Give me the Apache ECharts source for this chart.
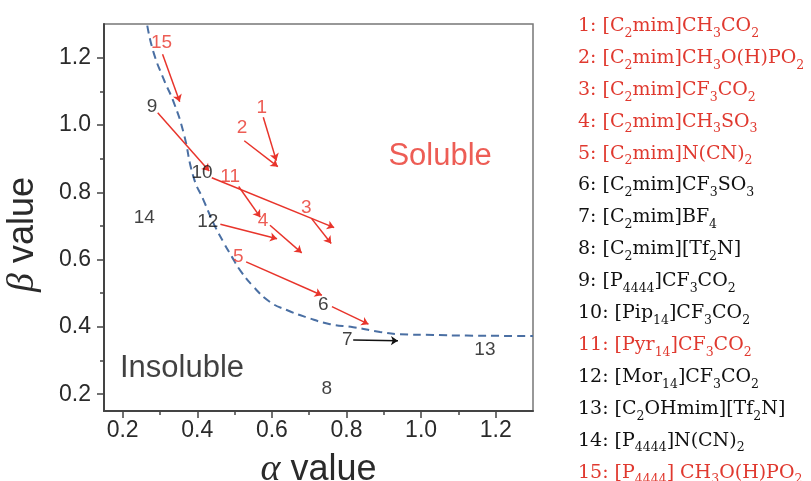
<!DOCTYPE html>
<html><head><meta charset="utf-8">
<script src="https://cdn.jsdelivr.net/npm/echarts@6/dist/echarts.min.js"></script>
<style>html,body{margin:0;padding:0;background:#fff}#c{width:811px;height:481px}</style>
</head><body><div id="c"></div>
<script>
// ---- data ----
const ids        = ['1','2','3','4','5','6','7','8','9','10','11','12','13','14','15'];
const labelAlpha = [0.573,0.520,0.692,0.576,0.510,0.738,0.802,0.747,0.279,0.413,0.488,0.428,1.171,0.258,0.304];
const labelBeta  = [1.052,0.993,0.753,0.716,0.607,0.465,0.363,0.215,1.054,0.857,0.847,0.711,0.333,0.724,1.245];
const labelRed   = [true,true,true,true,true,false,false,false,false,false,true,false,false,false,true];

const arrowIds        = ['1','2','3','4','5','6','7','9','10','11','12','15'];
const arrowStartAlpha = [0.577,0.526,0.707,0.595,0.531,0.761,0.818,0.294,0.439,0.511,0.462,0.307];
const arrowStartBeta  = [1.023,0.953,0.721,0.702,0.593,0.460,0.361,1.036,0.843,0.817,0.705,1.210];
const arrowEndAlpha   = [0.612,0.616,0.759,0.680,0.734,0.859,0.938,0.432,0.767,0.569,0.614,0.353];
const arrowEndBeta    = [0.894,0.876,0.648,0.620,0.494,0.408,0.359,0.863,0.695,0.726,0.662,1.069];
const arrowRed        = [true,true,true,true,true,true,false,true,true,true,true,true];

const boundaryAlpha = [0.266,0.283,0.310,0.337,0.363,0.390,0.417,0.444,0.470,0.493,0.515,0.551,0.595,0.640,0.694,0.756,0.818,0.890,0.943,1.033,1.122,1.300];
const boundaryBeta  = [1.295,1.215,1.136,1.067,0.978,0.845,0.776,0.707,0.652,0.608,0.568,0.519,0.474,0.450,0.428,0.408,0.399,0.385,0.378,0.376,0.374,0.373];

const xTicks      = [0.2,0.4,0.6,0.8,1.0,1.2];
const xMinorTicks = [0.3,0.5,0.7,0.9,1.1];
const yTicks      = [0.2,0.4,0.6,0.8,1.0,1.2];
const yMinorTicks = [0.3,0.5,0.7,0.9,1.1];

// ~x~ marks a subscript
const legendEntries = [
  '1: [C~2~mim]CH~3~CO~2~',
  '2: [C~2~mim]CH~3~O(H)PO~2~',
  '3: [C~2~mim]CF~3~CO~2~',
  '4: [C~2~mim]CH~3~SO~3~',
  '5: [C~2~mim]N(CN)~2~',
  '6: [C~2~mim]CF~3~SO~3~',
  '7: [C~2~mim]BF~4~',
  '8: [C~2~mim][Tf~2~N]',
  '9: [P~4444~]CF~3~CO~2~',
  '10: [Pip~14~]CF~3~CO~2~',
  '11: [Pyr~14~]CF~3~CO~2~',
  '12: [Mor~14~]CF~3~CO~2~',
  '13: [C~2~OHmim][Tf~2~N]',
  '14: [P~4444~]N(CN)~2~',
  '15: [P~4444~] CH~3~O(H)PO~2~'
];
const legendRed = [true,true,true,true,true,false,false,false,false,false,true,false,false,false,true];

// ---- chart ----
const RED = '#e8342b', BLACK = '#111', LRED = '#e0392f';
const chart = echarts.init(document.getElementById('c'), null, {renderer:'canvas'});

function toRich(s){
  return s.split('~').map((p,i)=> p.length ? (i%2 ? '{s|'+p+'}' : '{m|'+p+'}') : '').join('');
}

const legendGraphics = legendEntries.map((e,i)=>({
  type:'text', x:578, y:26 + i*31.9, silent:true,
  style:{
    text: toRich(e), verticalAlign:'middle', align:'left',
    fill: legendRed[i] ? LRED : BLACK,
    rich:{
      m:{fontFamily:'DejaVu Serif', fontSize:19, lineHeight:28, fill: legendRed[i] ? LRED : BLACK},
      s:{fontFamily:'DejaVu Serif', fontSize:12.5, lineHeight:12, verticalAlign:'bottom', fill: legendRed[i] ? LRED : BLACK}
    }
  }
}));

const axisFont = {fontFamily:'Liberation Sans', fontSize:23, color:'#2a2a2a'};

chart.setOption({
  animation:false,
  grid:{left:104, right:278, top:24, bottom:70, show:true, borderColor:'#777', borderWidth:1.5,
        backgroundColor:'transparent', containLabel:false, outerBoundsMode:'none'},
  xAxis:[{
    type:'value', min:0.15, max:1.3, position:'bottom',
    axisLine:{onZero:false, lineStyle:{color:'#444', width:2}},
    axisTick:{show:true, customValues:xTicks, length:7, lineStyle:{color:'#444', width:1.5}},
    axisLabel:Object.assign({customValues:xTicks, margin:8, formatter:v=>v.toFixed(1)}, axisFont),
    splitLine:{show:false},
    name:'{g|α} value', nameLocation:'middle', nameGap:40,
    nameTextStyle:{fontFamily:'Liberation Sans', fontSize:36, color:'#2a2a2a',
      rich:{g:{fontFamily:'Liberation Serif', fontStyle:'italic', fontSize:38, color:'#2a2a2a'}}}
  },{
    type:'value', min:0.15, max:1.3, position:'bottom',
    axisLine:{show:false, onZero:false},
    axisTick:{show:true, customValues:xMinorTicks, length:4, lineStyle:{color:'#444', width:1.5}},
    axisLabel:{show:false}, splitLine:{show:false}
  }],
  yAxis:[{
    type:'value', min:0.15, max:1.3, position:'left',
    axisLine:{show:true, onZero:false, lineStyle:{color:'#444', width:2}},
    axisTick:{show:true, customValues:yTicks, length:7, lineStyle:{color:'#444', width:1.5}},
    axisLabel:Object.assign({customValues:yTicks, margin:13, formatter:v=>v.toFixed(1)}, axisFont),
    splitLine:{show:false},
    name:'{g|β} value', nameLocation:'middle', nameGap:62,
    nameTextStyle:{fontFamily:'Liberation Sans', fontSize:36, color:'#2a2a2a', padding:[0,34,0,0],
      rich:{g:{fontFamily:'Liberation Serif', fontStyle:'italic', fontSize:38, color:'#2a2a2a'}}}
  },{
    type:'value', min:0.15, max:1.3, position:'left',
    axisLine:{show:false, onZero:false},
    axisTick:{show:true, customValues:yMinorTicks, length:4, lineStyle:{color:'#444', width:1.5}},
    axisLabel:{show:false}, splitLine:{show:false}
  }],
  graphic: legendGraphics,
  series:[
    {
      type:'line', name:'boundary', smooth:true, symbol:'none', silent:true,
      data: boundaryAlpha.map((a,i)=>[a, boundaryBeta[i]]),
      lineStyle:{color:'#4a6fa3', width:2, type:[8,5]}, z:2
    },
    {
      type:'lines', coordinateSystem:'cartesian2d', silent:true,
      symbol:['none','arrow'], symbolSize:7,
      data: arrowIds.map((id,i)=>({
        name:id,
        coords:[[arrowStartAlpha[i], arrowStartBeta[i]],[arrowEndAlpha[i], arrowEndBeta[i]]],
        lineStyle:{color: arrowRed[i] ? RED : BLACK, width:1.5, opacity:1}
      })), z:3
    },
    {
      type:'scatter', symbolSize:0, silent:true, z:4,
      data: ids.map((id,i)=>({
        name:id, value:[labelAlpha[i], labelBeta[i]],
        label:{color: labelRed[i] ? RED : BLACK}
      })),
      label:{show:true, position:'inside', formatter:'{b}', fontFamily:'Liberation Sans', fontSize:19}
    },
    {
      type:'scatter', symbolSize:0, silent:true, z:4,
      data:[
        {name:'Soluble', value:[1.051,0.907], label:{color:RED}},
        {name:'Insoluble', value:[0.359,0.275], label:{color:'#111'}}
      ],
      label:{show:true, position:'inside', formatter:'{b}', fontFamily:'Liberation Sans', fontSize:31}
    }
  ]
});
</script></body></html>
